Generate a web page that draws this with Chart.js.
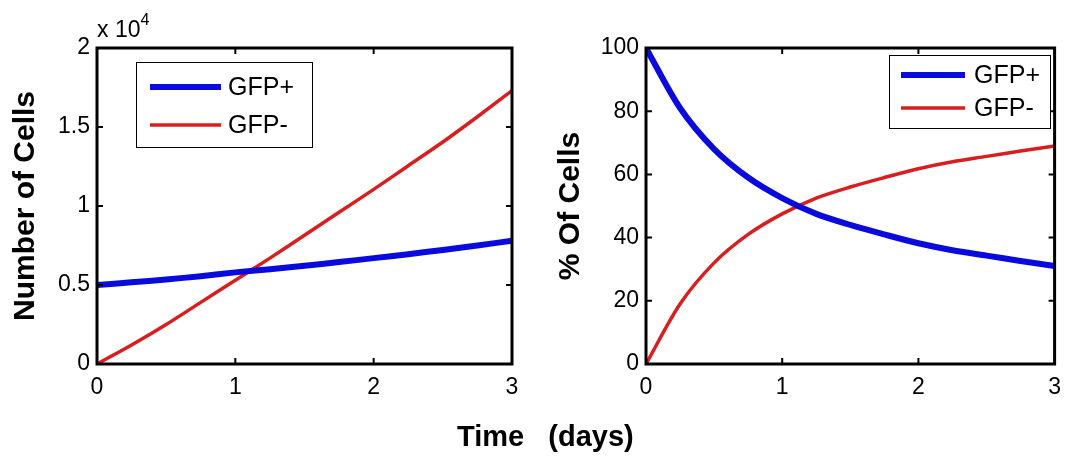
<!DOCTYPE html>
<html>
<head>
<meta charset="utf-8">
<script src="https://cdn.jsdelivr.net/npm/chart.js@4/dist/chart.umd.min.js"></script>
<style>
    body { margin: 0; background: #fff; }
    #wrap { position: relative; width: 1071px; height: 461px; overflow: hidden; font-family: "Liberation Sans", Arial, sans-serif; }
    canvas { position: absolute; top: 0; }
    #leftChart { left: 0; }
    #rightChart { left: 540px; }
    .note { position: absolute; color: #000; white-space: pre; }
</style>
</head>
<body>
<div id="wrap">
    <canvas id="leftChart" width="540" height="461"></canvas>
    <canvas id="rightChart" width="531" height="461"></canvas>
    <div class="note" style="left: 97px; top: 14px; font-size: 23px;">x 10<sup style="font-size: 16px; position: relative; top: -3px;">4</sup></div>
    <div class="note" style="left: 457px; top: 420px; font-size: 29px; font-weight: bold;">Time   (days)</div>
</div>
<script>
// Time points (days)
const days = [0, 0.25, 0.5, 0.75, 1, 1.25, 1.5, 1.75, 2, 2.25, 2.5, 2.75, 3];

// Number of cells
const gfpPosCells = [5000, 5170, 5350, 5560, 5800, 6000, 6220, 6450, 6700, 6950, 7220, 7500, 7800];
const gfpNegCells = [0, 1200, 2500, 3900, 5300, 6700, 8150, 9600, 11050, 12550, 14050, 15650, 17300];

// Percent of cells
const gfpPosPct = [100, 81, 68, 59, 52.5, 47.5, 44, 41, 38.2, 36, 34.3, 32.6, 31];
const gfpNegPct = [0, 19, 32, 41, 47.5, 52.5, 56, 59, 61.8, 64, 65.7, 67.4, 69];

const seriesLabels = ['GFP+', 'GFP-'];
const leftYTicks = [0, 5000, 10000, 15000, 20000];
const rightYTicks = [0, 20, 40, 60, 80, 100];

const BLUE = '#0a0ade';
const RED = '#d81e1e';
const FONT = '"Liberation Sans", Arial, sans-serif';

function points(ys) {
    return ys.map((y, i) => ({ x: days[i], y: y }));
}

// Box round the plot area, with short ticks pointing inward on all four sides
const boxPlugin = {
    id: 'box',
    afterDatasetsDraw(chart) {
        const { ctx, chartArea: a, scales } = chart;
        ctx.save();
        ctx.strokeStyle = '#000';
        ctx.lineWidth = 2;
        const tl = 6;
        scales.x.ticks.forEach(t => {
            const px = scales.x.getPixelForValue(t.value);
            ctx.beginPath();
            ctx.moveTo(px, a.bottom); ctx.lineTo(px, a.bottom - tl);
            ctx.moveTo(px, a.top); ctx.lineTo(px, a.top + tl);
            ctx.stroke();
        });
        scales.y.ticks.forEach(t => {
            const py = scales.y.getPixelForValue(t.value);
            ctx.beginPath();
            ctx.moveTo(a.left, py); ctx.lineTo(a.left + tl, py);
            ctx.moveTo(a.right, py); ctx.lineTo(a.right - tl, py);
            ctx.stroke();
        });
        ctx.lineWidth = 3;
        ctx.strokeRect(a.left, a.top, a.right - a.left, a.bottom - a.top);
        ctx.restore();
    }
};

// MATLAB style legend box
const boxLegendPlugin = {
    id: 'boxLegend',
    afterDraw(chart, args, opts) {
        const { ctx } = chart;
        ctx.save();
        ctx.fillStyle = '#fff';
        ctx.fillRect(opts.x, opts.y, opts.w, opts.h);
        ctx.strokeStyle = '#000';
        ctx.lineWidth = 1;
        ctx.strokeRect(opts.x + 0.5, opts.y + 0.5, opts.w, opts.h);
        chart.data.datasets.forEach((ds, i) => {
            const y = opts.rows[i];
            ctx.strokeStyle = ds.borderColor;
            ctx.lineWidth = ds.borderWidth;
            ctx.beginPath();
            ctx.moveTo(opts.lineX0, y);
            ctx.lineTo(opts.lineX1, y);
            ctx.stroke();
            ctx.fillStyle = '#000';
            ctx.font = '25px ' + FONT;
            ctx.textBaseline = 'middle';
            ctx.fillText(ds.label, opts.textX, y + 1);
        });
        ctx.restore();
    }
};

function makeChart(canvasId, pos, neg, yMax, yTicks, yTitle, yFmt, layout) {
    return new Chart(document.getElementById(canvasId), {
        type: 'line',
        data: {
            datasets: [
                { label: seriesLabels[0], data: points(pos), borderColor: BLUE, borderWidth: 6, pointRadius: 0, tension: 0.3 },
                { label: seriesLabels[1], data: points(neg), borderColor: RED, borderWidth: 3.5, pointRadius: 0, tension: 0.3 }
            ]
        },
        options: {
            responsive: false,
            animation: false,
            layout: { padding: { top: 48, right: layout.right, bottom: 0, left: 0 } },
            plugins: {
                legend: { display: false },
                tooltip: { enabled: false },
                boxLegend: layout.legend
            },
            scales: {
                x: {
                    type: 'linear',
                    min: 0,
                    max: 3,
                    grid: { display: false, drawTicks: false },
                    border: { display: false },
                    ticks: { stepSize: 1, color: '#000', padding: 10, font: { family: FONT, size: 23 } },
                    afterFit: s => { s.height = 97; }
                },
                y: {
                    min: 0,
                    max: yMax,
                    grid: { display: false, drawTicks: false },
                    border: { display: false },
                    afterBuildTicks: s => { s.ticks = yTicks.map(v => ({ value: v })); },
                    ticks: { color: '#000', padding: 7, font: { family: FONT, size: 23 }, callback: yFmt },
                    title: {
                        display: true,
                        text: yTitle,
                        color: '#000',
                        padding: { top: layout.titlePad, bottom: 0 },
                        font: { family: FONT, size: 30, weight: 'bold', lineHeight: 1 }
                    },
                    afterFit: s => { s.width = layout.yWidth; }
                }
            }
        },
        plugins: [boxPlugin, boxLegendPlugin]
    });
}

makeChart('leftChart', gfpPosCells, gfpNegCells, 20000, leftYTicks, 'Number of Cells',
    v => String(v / 10000),
    {
        right: 28, yWidth: 97, titlePad: 11,
        legend: { x: 136, y: 62, w: 176, h: 85, lineX0: 150, lineX1: 221, textX: 228, rows: [87, 125] }
    });

makeChart('rightChart', gfpPosPct, gfpNegPct, 100, rightYTicks, '% Of Cells',
    v => String(v),
    {
        right: 13, yWidth: 106, titlePad: 16,
        legend: { x: 349, y: 55, w: 161, h: 73, lineX0: 361, lineX1: 425, textX: 434, rows: [75, 108] }
    });
</script>
</body>
</html>
